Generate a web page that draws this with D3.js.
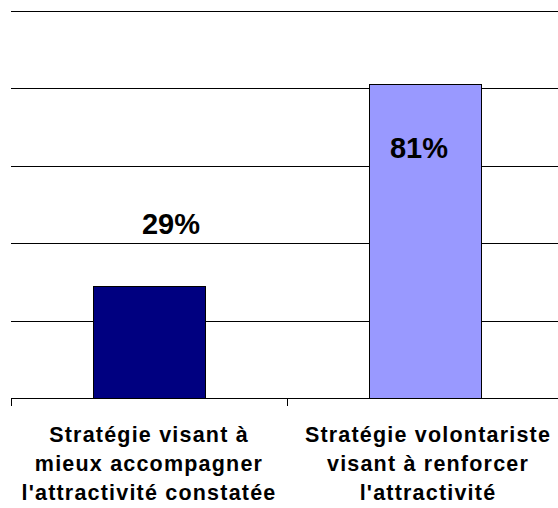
<!DOCTYPE html>
<html>
<head>
<meta charset="utf-8">
<script src="https://cdn.jsdelivr.net/npm/d3@7"></script>
<style>
  html, body { margin: 0; padding: 0; background: #fff; }
  svg { display: block; font-family: "Liberation Sans", Arial, sans-serif; }
</style>
</head>
<body>
<svg id="chart" width="558" height="508"></svg>
<script>
// ---- data ----
const categories = [
  ['Stratégie visant à', 'mieux accompagner', "l'attractivité constatée"],
  ['Stratégie volontariste', 'visant à renforcer', "l'attractivité"]
];
const values = [29, 81];
const barColors = ['#000080', '#9999ff'];
const gridTicks = [20, 40, 60, 80, 100];

// label nudges (the labels were moved by hand in the original)
const labelOffsets = [{dx: 22, dy: -52}, {dx: -6, dy: 74}];

// ---- layout ----
const svg = d3.select('#chart');
const plotL = 11, plotR = 563, plotT = 10.5, base = 398;

const keys = categories.map((c, i) => i);
const x = d3.scaleBand().domain(keys).range([plotL, plotR]);
const y = d3.scaleLinear().domain([0, 100]).range([base, plotT]);
const barW = x.bandwidth() * 0.405;

// gridlines
svg.append('g').selectAll('line').data(gridTicks).join('line')
  .attr('x1', plotL).attr('x2', plotR)
  .attr('y1', d => Math.round(y(d)) + 0.5).attr('y2', d => Math.round(y(d)) + 0.5)
  .attr('stroke', '#000').attr('stroke-width', 1);

// bars
svg.append('g').selectAll('rect').data(values).join('rect')
  .attr('x', (d, i) => Math.round(x(i) + x.bandwidth() / 2 - barW / 2) + 0.5)
  .attr('width', Math.round(barW))
  .attr('y', d => Math.round(y(d)) + 0.5)
  .attr('height', d => base - Math.round(y(d)))
  .attr('fill', (d, i) => barColors[i])
  .attr('stroke', '#000').attr('stroke-width', 1);

// x axis baseline + ticks
const xAxis = svg.append('g').attr('transform', `translate(0,${base})`);
xAxis.append('line')
  .attr('x1', plotL).attr('x2', plotR).attr('y1', 0.5).attr('y2', 0.5)
  .attr('stroke', '#000');
xAxis.selectAll('line.tick').data(keys.concat([keys.length])).join('line')
  .attr('class', 'tick')
  .attr('x1', d => Math.round(d < keys.length ? x(d) : x.range()[1]) + 0.5)
  .attr('x2', d => Math.round(d < keys.length ? x(d) : x.range()[1]) + 0.5)
  .attr('y1', 0).attr('y2', 8)
  .attr('stroke', '#000');

// category labels
const lineH = 29;
svg.append('g').selectAll('text').data(categories).join('text')
  .attr('text-anchor', 'middle')
  .attr('font-size', 21.5)
  .attr('font-weight', 'bold')
  .attr('letter-spacing', 1.2)
  .attr('fill', '#000')
  .each(function(lines, i) {
    d3.select(this).selectAll('tspan').data(lines).join('tspan')
      .attr('x', x(i) + x.bandwidth() / 2 + (i ? 3 : 0))
      .attr('y', (l, j) => base + 44 + j * lineH)
      .text(l => l);
  });

// value labels
svg.append('g').selectAll('text').data(values).join('text')
  .attr('x', (d, i) => x(i) + x.bandwidth() / 2 + labelOffsets[i].dx)
  .attr('y', (d, i) => y(d) + labelOffsets[i].dy)
  .attr('text-anchor', 'middle')
  .attr('font-size', 29)
  .attr('font-weight', 'bold')
  .attr('fill', '#000')
  .text(d => d + '%');
</script>
</body>
</html>
